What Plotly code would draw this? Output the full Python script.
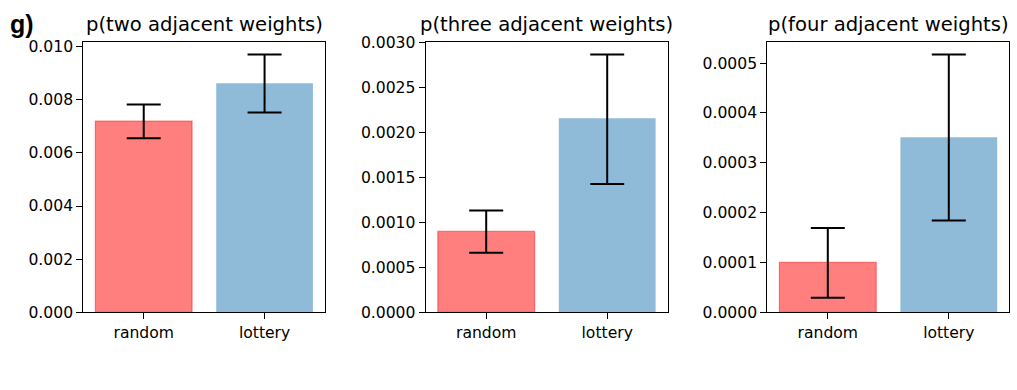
import plotly.graph_objects as go
from plotly.subplots import make_subplots

# ---- data ----
categories = ["random", "lottery"]
titles = ["p(two adjacent weights)", "p(three adjacent weights)", "p(four adjacent weights)"]

two_mean = [0.0072, 0.00862]
two_low = [0.00655, 0.00752]
two_high = [0.00782, 0.00970]

three_mean = [0.00090, 0.00216]
three_low = [0.000662, 0.001426]
three_high = [0.001133, 0.002867]

four_mean = [0.000100, 0.000351]
four_low = [0.000029, 0.000184]
four_high = [0.000169, 0.000517]

y_tick_vals = [
    [0, 0.002, 0.004, 0.006, 0.008, 0.010],
    [0, 0.0005, 0.0010, 0.0015, 0.0020, 0.0025, 0.0030],
    [0, 0.0001, 0.0002, 0.0003, 0.0004, 0.0005],
]
y_tick_formats = [".3f", ".4f", ".4f"]

panels = [
    (two_mean, two_low, two_high),
    (three_mean, three_low, three_high),
    (four_mean, four_low, four_high),
]

bar_fill = ["rgba(255,0,0,0.5)", "rgba(31,119,180,0.5)"]
bar_line = ["rgba(255,0,0,0.45)", "rgba(31,119,180,0.0)"]

W, H = 1017, 390
FONT = "DejaVu Sans"

fig = make_subplots(rows=1, cols=3)

x_domains_px = [(83.3, 325.0), (425.7, 667.7), (767.3, 1009.3)]
y_dom = [(H - 312.3) / H, (H - 41.7) / H]

for i, (mean, low, high) in enumerate(panels):
    fig.add_trace(
        go.Bar(
            x=categories,
            y=mean,
            width=0.8,
            marker=dict(color=bar_fill, line=dict(color=bar_line, width=1.2)),
            error_y=dict(
                type="data",
                symmetric=False,
                array=[h - m for h, m in zip(high, mean)],
                arrayminus=[m - l for m, l in zip(mean, low)],
                color="black",
                thickness=2,
                width=17,
            ),
            showlegend=False,
        ),
        row=1,
        col=i + 1,
    )
    ymax = 1.05 * max(high)
    ax = "" if i == 0 else str(i + 1)
    x0, x1 = x_domains_px[i]
    fig.layout["xaxis" + ax].update(
        domain=[x0 / W, x1 / W],
        range=[-0.5, 1.5],
        type="category",
        showline=True,
        mirror=True,
        linecolor="black",
        linewidth=1.2,
        ticks="outside",
        ticklen=6,
        tickwidth=1.2,
        tickcolor="black",
        showgrid=False,
        zeroline=False,
        tickfont=dict(family=FONT, size=15.6, color="black"),
        automargin=False,
        fixedrange=True,
    )
    fig.layout["yaxis" + ax].update(
        domain=y_dom,
        range=[0, ymax],
        tickvals=y_tick_vals[i],
        tickformat=y_tick_formats[i],
        showline=True,
        mirror=True,
        linecolor="black",
        linewidth=1.2,
        ticks="outside",
        ticklen=6,
        tickwidth=1.2,
        tickcolor="black",
        showgrid=False,
        zeroline=False,
        tickfont=dict(family=FONT, size=15.6, color="black"),
        automargin=False,
        fixedrange=True,
    )
    fig.add_annotation(
        text=titles[i],
        xref="paper",
        yref="paper",
        x=(x0 + x1) / 2 / W,
        y=(H - 24) / H,
        xanchor="center",
        yanchor="middle",
        showarrow=False,
        font=dict(family=FONT, size=19.6, color="black"),
    )

fig.add_annotation(
    text="<b>g)</b>",
    xref="paper",
    yref="paper",
    x=8 / W,
    y=(H - 24) / H,
    xanchor="left",
    yanchor="middle",
    showarrow=False,
    font=dict(family="Liberation Sans", size=25, color="black"),
)

fig.update_layout(
    width=W,
    height=H,
    margin=dict(l=0, r=0, t=0, b=0),
    paper_bgcolor="white",
    plot_bgcolor="white",
    bargap=0.2,
)

fig.write_html(
    "out.html",
    config={"displayModeBar": False},
    post_script="document.body.style.margin='0px';document.body.style.overflow='hidden';",
)
